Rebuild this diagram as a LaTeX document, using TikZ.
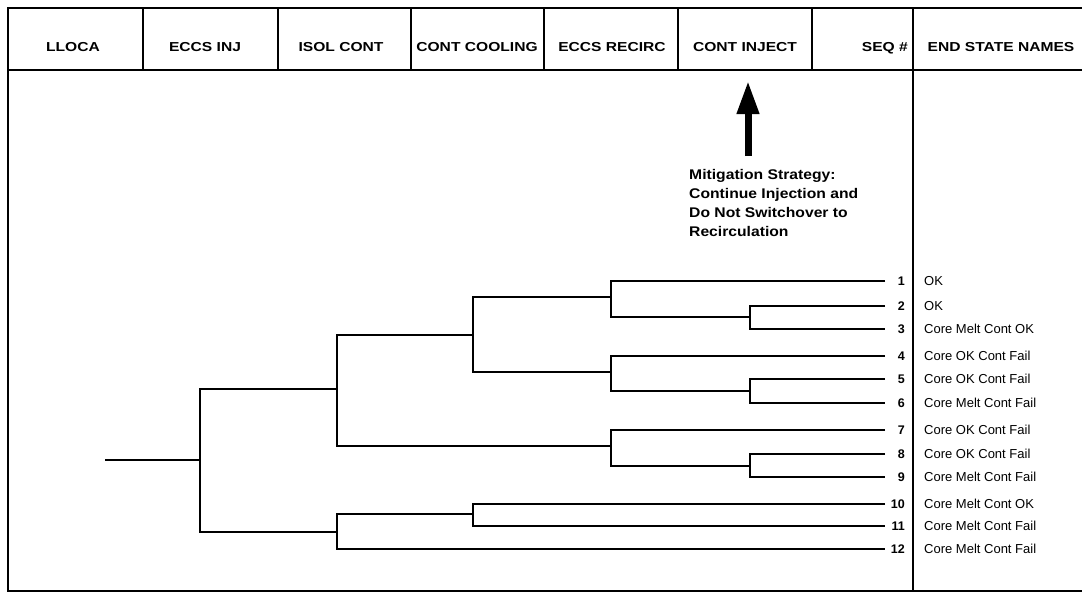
\documentclass[tikz,border=0pt]{standalone}
\usepackage{fontspec}
\setmainfont{Liberation Sans}
\newfontfamily\hdrfont{Liberation Sans}[FakeStretch=1.2]
\newfontfamily\notefont{Liberation Sans}[FakeStretch=1.12]
\usetikzlibrary{arrows.meta}
\begin{document}
\begin{tikzpicture}[x=1pt,y=-1pt,
  frame/.style={line width=1.8pt},
  tree/.style={line width=1.6pt},
  hdr/.style={font=\hdrfont\bfseries\fontsize{13}{15}\selectfont, inner sep=0pt, anchor=base},
  seqno/.style={font=\bfseries\fontsize{12.5}{14}\selectfont, inner sep=0pt, anchor=base east},
  endname/.style={font=\fontsize{13}{15}\selectfont, inner sep=0pt, anchor=base west},
  note/.style={font=\notefont\bfseries\fontsize{14}{19}\selectfont, align=left, inner sep=0pt, anchor=north west},
  bigarrow/.style={line width=7pt, -{Triangle[width=21pt,length=33pt]}}]
\useasboundingbox (0,0) rectangle (1082,592);
\fill[white] (0,0) rectangle (1082,592);

% frame and header
\draw[frame] (8,8) rectangle (1095,591);
\draw[frame] (8,70) -- (1095,70);
\foreach \xx in {143,278,411,544,678,812} \draw[frame] (\xx,8) -- (\xx,70);
\draw[frame] (913,8) -- (913,591);

\node[hdr] (hA) at (73,51) {LLOCA};
\node[hdr] (hB) at (205,51) {ECCS INJ};
\node[hdr] (hC) at (341,51) {ISOL CONT};
\node[hdr] (hD) at (477,51) {CONT COOLING};
\node[hdr] (hE) at (612,51) {ECCS RECIRC};
\node[hdr] (hF) at (745,51) {CONT INJECT};
\node[hdr, anchor=base east] (hG) at (908,51) {SEQ \#};
\node[hdr] (hH) at (1001,51) {END STATE NAMES};

% mitigation note and arrow
\node[note] (note) at (689,169) {Mitigation Strategy:\\Continue Injection and\\Do Not Switchover to\\Recirculation};
\coordinate (atail) at (748,156);
\coordinate (atip) at (748,81);
\draw[bigarrow] (atail) -- (atip);

% end states
\foreach \i/\yy/\t in {1/281/OK, 2/306/OK, 3/329/Core Melt Cont OK, 4/356/Core OK Cont Fail,
  5/379/Core OK Cont Fail, 6/403/Core Melt Cont Fail, 7/430/Core OK Cont Fail,
  8/454/Core OK Cont Fail, 9/477/Core Melt Cont Fail, 10/504/Core Melt Cont OK,
  11/526/Core Melt Cont Fail, 12/549/Core Melt Cont Fail}{
  \coordinate (e\i) at (885,\yy);
  \node[seqno] (s\i) at (905,\yy+4.6) {\i};
  \node[endname] (t\i) at (924,\yy+4.7) {\t};
}

% tree branch points
\coordinate (root) at (105,460);
\coordinate (n1) at (200,460);
\coordinate (n2) at (337,389);
\coordinate (n3) at (337,532);
\coordinate (n4) at (473,335);
\coordinate (n5) at (611,446);
\coordinate (n6) at (611,297);
\coordinate (n7) at (611,372);
\coordinate (n8) at (750,317);
\coordinate (n9) at (750,391);
\coordinate (n10) at (750,466);
\coordinate (n11) at (473,514);

\draw[tree] (root) -- (n1);
\draw[tree] (n2) -| (n1) |- (n3);
\draw[tree] (n4) -| (n2) |- (n5);
\draw[tree] (n6) -| (n4) |- (n7);
\draw[tree] (e1) -| (n6) |- (n8);
\draw[tree] (e2) -| (n8) |- (e3);
\draw[tree] (e4) -| (n7) |- (n9);
\draw[tree] (e5) -| (n9) |- (e6);
\draw[tree] (e7) -| (n5) |- (n10);
\draw[tree] (e8) -| (n10) |- (e9);
\draw[tree] (n11) -| (n3) |- (e12);
\draw[tree] (e10) -| (n11) |- (e11);
\end{tikzpicture}
\end{document}
